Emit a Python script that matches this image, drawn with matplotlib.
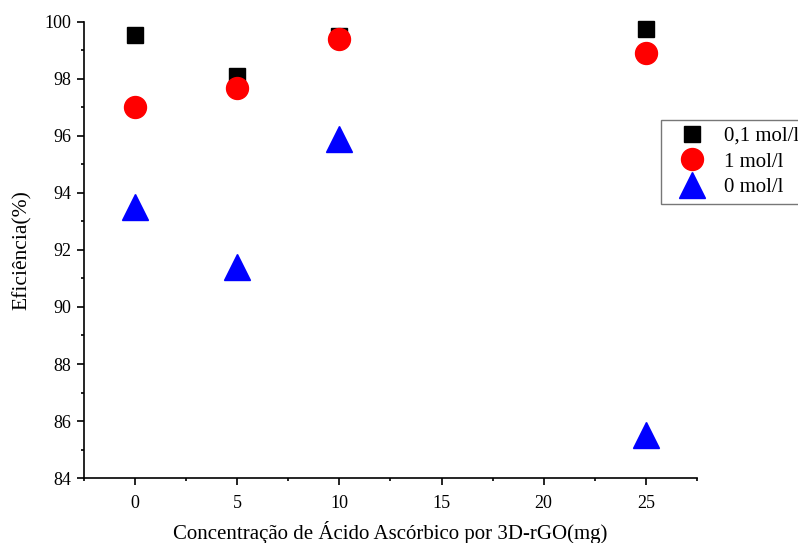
import numpy as np
import matplotlib
matplotlib.use("Agg")
import matplotlib.pyplot as plt
from matplotlib.ticker import MultipleLocator

plt.rcParams['font.family'] = ['Liberation Serif', 'DejaVu Serif']

# ascorbic acid mass (mg) and removal efficiency (%) per electrolyte concentration
massa = [0, 5, 10, 25]
ef_01 = [99.55, 98.1, 99.5, 99.75]
ef_1 = [97.0, 97.7, 99.4, 98.9]
ef_0 = [93.5, 91.4, 95.9, 85.5]

fig = plt.figure(figsize=(7.98, 5.43), dpi=100)
ax = fig.add_axes([0.1053, 0.1197, 0.768, 0.8398])

ax.plot(massa, ef_01, ls='none', marker='s', ms=12.2, color='black', label='0,1 mol/l', clip_on=False)
ax.plot(massa, ef_1, ls='none', marker='o', ms=15.8, color='red', label='1 mol/l', clip_on=False)
ax.plot(massa, ef_0, ls='none', marker='^', ms=18.5, color='blue', label='0 mol/l', clip_on=False)

ax.set_xlim(-2.5, 27.5)
ax.set_ylim(84, 100)
ax.xaxis.set_major_locator(MultipleLocator(5))
ax.xaxis.set_minor_locator(MultipleLocator(2.5))
ax.yaxis.set_major_locator(MultipleLocator(2))
ax.yaxis.set_minor_locator(MultipleLocator(1))

for side in ('top', 'right'):
    ax.spines[side].set_visible(False)
for side in ('left', 'bottom'):
    ax.spines[side].set_linewidth(1.2)

ax.tick_params(which='major', direction='out', length=5, width=1.2, labelsize=13)
ax.tick_params(axis='x', which='major', pad=7)
ax.tick_params(axis='y', which='major', pad=4)
ax.tick_params(which='minor', direction='out', length=2.5, width=1.2)

ax.set_xlabel('Concentração de Ácido Ascórbico por 3D-rGO(mg)', fontsize=15, labelpad=7)
ax.set_ylabel('Eficiência(%)', fontsize=15.5, labelpad=9)

leg = fig.legend(loc='upper left', bbox_to_anchor=(661 / 798, 1 - 120 / 543),
                 bbox_transform=fig.transFigure, fontsize=15, frameon=True,
                 fancybox=False, edgecolor='#555555', borderpad=0.3,
                 borderaxespad=0, handletextpad=0.3, labelspacing=0.3,
                 handlelength=2.4, markerscale=1.0)
leg.get_frame().set_linewidth(1.0)

fig.savefig('out.png', dpi=100)
